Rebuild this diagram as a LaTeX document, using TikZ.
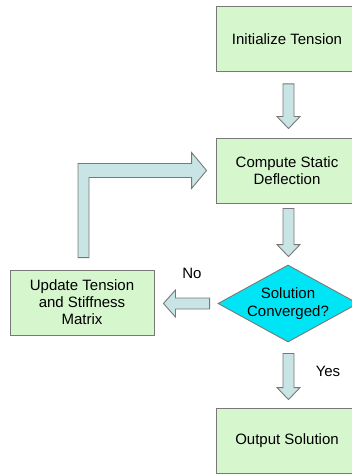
\documentclass[tikz,border=0pt]{standalone}
\usepackage{fontspec}
\setmainfont{Liberation Sans}
\usetikzlibrary{shapes.geometric,calc}
\definecolor{boxgreen}{RGB}{214,246,206}
\definecolor{arrblue}{RGB}{201,228,228}
\definecolor{deccyan}{RGB}{0,229,245}
\definecolor{edgegray}{RGB}{120,120,120}
\tikzset{
  procbox/.style={draw=edgegray, line width=0.9pt, fill=boxgreen, rectangle, minimum width=142pt, minimum height=65pt, inner sep=0pt, align=center, font=\fontsize{15}{17}\selectfont},
  decshape/.style={draw=edgegray, line width=0.9pt, fill=deccyan, diamond, minimum width=140pt, minimum height=77pt, inner sep=0pt},
  lbl/.style={font=\fontsize{15}{17}\selectfont, align=center, inner sep=0pt},
  blk/.style={draw=edgegray, line width=0.9pt, fill=arrblue, line join=miter}
}
\newcommand{\vblk}[2]{% #1 start (top), #2 tip (bottom)
  \draw[blk] let \p1=#1, \p2=#2 in
    (\x1-5.5pt,\y1) -- (\x1+5.5pt,\y1) -- (\x1+5.5pt,\y2+12pt) -- (\x1+11.5pt,\y2+12pt)
    -- (\x1,\y2) -- (\x1-11.5pt,\y2+12pt) -- (\x1-5.5pt,\y2+12pt) -- cycle;}
\begin{document}
\begin{tikzpicture}[x=1pt,y=-1pt]
\useasboundingbox (0,0) rectangle (351,476);
\node[procbox] (init) at (287,39) {Initialize Tension};
\node[procbox] (comp) at (287,170.5) {Compute Static\\Deflection};
\node[decshape] (dec) at (288,303.5) {};
\node[lbl] (dectext) at (288,304) {Solution\\[1pt]Converged?};
\node[procbox, minimum width=144pt] (upd) at (82,302.5) {Update Tension\\and Stiffness\\Matrix};
\node[procbox] (out) at (287,440.5) {Output Solution};
\node[lbl] (no) at (192,273) {No};
\node[lbl] (yes) at (328,371) {Yes};
% vertical block arrows
\coordinate (a1s) at ($(init.south)+(1.5,12)$);
\coordinate (a1e) at ($(comp.north)+(1.5,-9)$);
\vblk{(a1s)}{(a1e)}
\coordinate (a2s) at ($(comp.south)+(1.5,5)$);
\coordinate (a2e) at ($(dec.north)+(0.5,-8)$);
\vblk{(a2s)}{(a2e)}
\coordinate (a3s) at ($(dec.south)+(0.5,11)$);
\coordinate (a3e) at ($(out.north)+(1.5,-8)$);
\vblk{(a3s)}{(a3e)}
% "No" arrow (leftwards)
\coordinate (ans) at ($(dec.west)+(-8,0)$);
\coordinate (ane) at ($(upd.east)+(9,0)$);
\draw[blk] let \p1=(ans), \p2=(ane) in
  (\x1,\y1+5.5pt) -- (\x1,\y1-5.5pt) -- (\x2+12pt,\y1-5.5pt) -- (\x2+12pt,\y1-13.5pt)
  -- (\x2,\y1) -- (\x2+12pt,\y1+13.5pt) -- (\x2+12pt,\y1+5.5pt) -- cycle;
% feedback arrow
\coordinate (fbs) at ($(upd.north)+(1.5,-12)$);
\coordinate (fbe) at ($(comp.west)+(-9,0)$);
\draw[blk] let \p1=(fbs), \p2=(fbe) in
  (\x1-5.5pt,\y1) -- (\x1-5.5pt,\y2+7pt) -- (\x2-15pt,\y2+7pt) -- (\x2-15pt,\y2+18pt)
  -- (\x2,\y2) -- (\x2-15pt,\y2-18pt) -- (\x2-15pt,\y2-7pt) -- (\x1+5.5pt,\y2-7pt)
  -- (\x1+5.5pt,\y1) -- cycle;
\end{tikzpicture}
\end{document}
